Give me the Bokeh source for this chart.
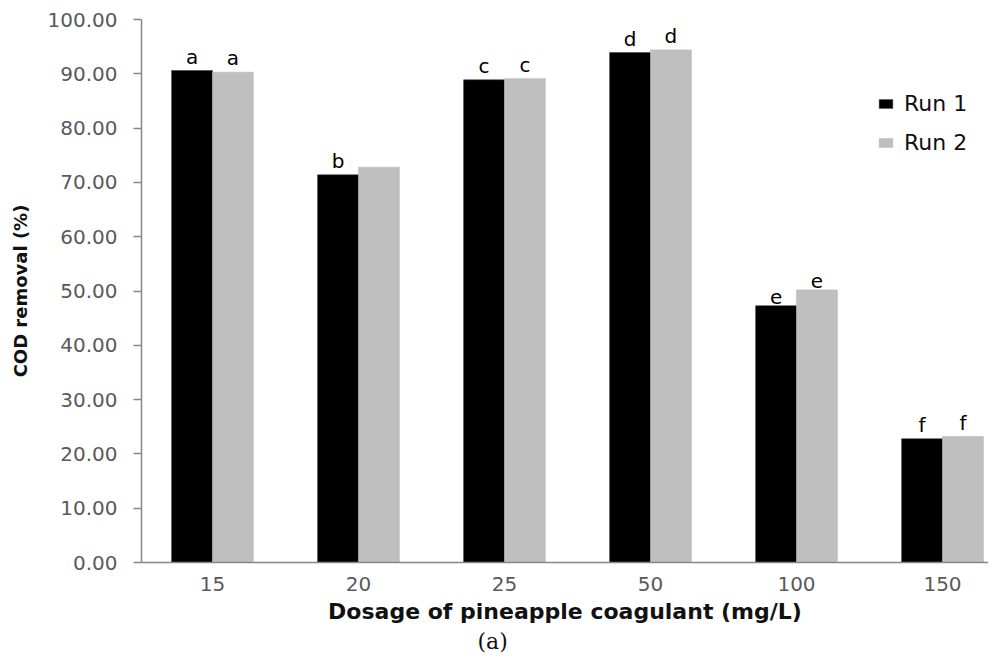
from bokeh.plotting import figure
from bokeh.models import Range1d, FixedTicker, Title, Legend, LegendItem, ColumnDataSource
from bokeh.core.properties import value
from bokeh.embed import file_html
from bokeh.resources import INLINE

dosages = ["15", "20", "25", "50", "100", "150"]
run1 = [90.6, 71.4, 88.9, 93.9, 47.3, 22.8]
run2 = [90.3, 72.8, 89.1, 94.4, 50.2, 23.2]
letters1 = ["a", "b", "c", "d", "e", "f"]
letters2 = ["a", "", "c", "d", "e", "f"]
y_ticks = [0, 10, 20, 30, 40, 50, 60, 70, 80, 90, 100]

idx = list(range(len(dosages)))
bw = 0.28
src1 = ColumnDataSource(dict(x=[i - bw / 2 for i in idx], top=run1, lab=letters1))
src2 = ColumnDataSource(dict(x=[i + bw / 2 for i in idx], top=run2, lab=letters2))

p = figure(width=988, height=653, output_backend="svg", toolbar_location=None,
           x_range=Range1d(-0.486, 5.315), y_range=Range1d(0, 100),
           min_border_left=141, min_border_top=19, min_border_right=0, min_border_bottom=88)
p.outline_line_color = None
p.grid.visible = False
p.background_fill_color = "white"

r1 = p.vbar(x="x", top="top", width=bw, source=src1, fill_color="#000000", line_color="#333333", line_width=0.5)
r2 = p.vbar(x="x", top="top", width=bw, source=src2, fill_color="#BFBFBF", line_color="#B0B0B0", line_width=0.5)

for s in (src1, src2):
    p.text(x="x", y="top", text="lab", source=s, text_align="center", text_baseline="bottom",
           y_offset=-2, text_font=value("DejaVu Sans"), text_font_size="20px", text_color="black")

# axes
p.xaxis.ticker = FixedTicker(ticks=idx)
p.xaxis.major_label_overrides = {i: d for i, d in zip(idx, dosages)}
p.xaxis.major_tick_line_color = None
p.xaxis.minor_tick_line_color = None
p.xaxis.major_tick_out = 0
p.xaxis.major_label_standoff = 14
p.xaxis.axis_line_color = "#878787"
p.xaxis.axis_line_width = 1.5
p.xaxis.major_label_text_font = "DejaVu Sans"
p.xaxis.major_label_text_font_size = "20px"
p.xaxis.major_label_text_color = "#595959"
p.xaxis.axis_label = "Dosage of pineapple coagulant (mg/L)"
p.xaxis.axis_label_text_font = "DejaVu Sans"
p.xaxis.axis_label_text_font_size = "22px"
p.xaxis.axis_label_text_font_style = "bold"
p.xaxis.axis_label_text_color = "#111111"
p.xaxis.axis_label_standoff = 5

p.yaxis.ticker = FixedTicker(ticks=y_ticks)
p.yaxis.major_label_overrides = {t: f"{t:.2f}" for t in y_ticks}
p.yaxis.minor_tick_line_color = None
p.yaxis.major_tick_out = 8
p.yaxis.major_tick_in = 0
p.yaxis.major_tick_line_color = "#878787"
p.yaxis.major_tick_line_width = 1.5
p.yaxis.axis_line_color = "#878787"
p.yaxis.axis_line_width = 1.5
p.yaxis.major_label_standoff = 16
p.yaxis.major_label_text_font = "DejaVu Sans"
p.yaxis.major_label_text_font_size = "20px"
p.yaxis.major_label_text_color = "#595959"
p.yaxis.axis_label = "COD removal (%)"
p.yaxis.axis_label_text_font = "DejaVu Sans"
p.yaxis.axis_label_text_font_size = "18px"
p.yaxis.axis_label_text_font_style = "bold"
p.yaxis.axis_label_text_color = "#111111"
p.yaxis.axis_label_standoff = 14

legend = Legend(items=[LegendItem(label="Run 1", renderers=[r1]), LegendItem(label="Run 2", renderers=[r2])],
                location=(736, 407), orientation="vertical",
                glyph_width=17, glyph_height=11, label_text_font="DejaVu Sans",
                label_text_font_size="22px", label_text_color="#111111",
                spacing=14, padding=0, margin=0, label_standoff=10,
                border_line_color=None, background_fill_alpha=0)
p.add_layout(legend)

sub = Title(text="(a)", align="left", offset=336, standoff=0, text_font="DejaVu Serif",
            text_font_size="22px", text_font_style="normal", text_color="#111111")
p.add_layout(sub, "below")

open("out.html", "w").write(file_html(p, INLINE))
